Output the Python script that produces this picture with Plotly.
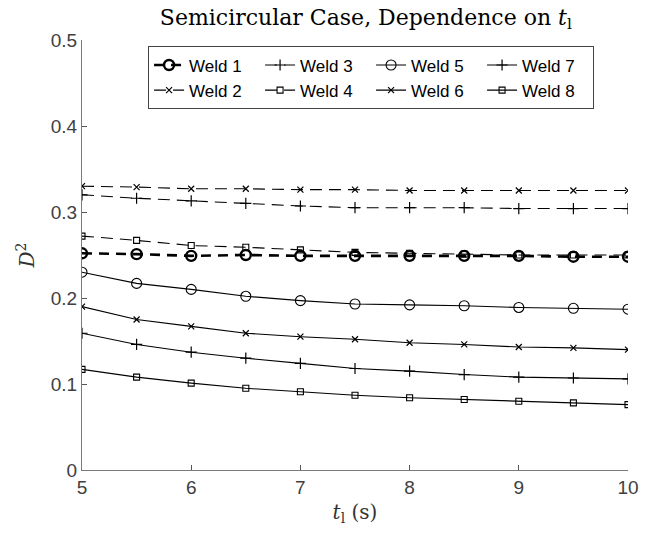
import plotly.graph_objects as go

t = [5, 5.5, 6, 6.5, 7, 7.5, 8, 8.5, 9, 9.5, 10]

weld1 = [0.252, 0.251, 0.249, 0.250, 0.249, 0.249, 0.249, 0.249, 0.249, 0.248, 0.248]
weld2 = [0.330, 0.329, 0.327, 0.327, 0.326, 0.326, 0.325, 0.325, 0.325, 0.325, 0.325]
weld3 = [0.320, 0.316, 0.313, 0.310, 0.307, 0.305, 0.305, 0.305, 0.304, 0.304, 0.304]
weld4 = [0.272, 0.267, 0.261, 0.259, 0.256, 0.253, 0.252, 0.251, 0.250, 0.250, 0.250]
weld5 = [0.230, 0.217, 0.210, 0.202, 0.197, 0.193, 0.192, 0.191, 0.189, 0.188, 0.187]
weld6 = [0.190, 0.175, 0.167, 0.159, 0.155, 0.152, 0.148, 0.146, 0.143, 0.142, 0.140]
weld7 = [0.159, 0.146, 0.137, 0.130, 0.124, 0.118, 0.115, 0.111, 0.108, 0.107, 0.106]
weld8 = [0.117, 0.108, 0.101, 0.095, 0.091, 0.087, 0.084, 0.082, 0.080, 0.078, 0.076]

series = {
    "Weld 1": weld1, "Weld 2": weld2, "Weld 3": weld3, "Weld 4": weld4,
    "Weld 5": weld5, "Weld 6": weld6, "Weld 7": weld7, "Weld 8": weld8,
}

styles = {
    "Weld 1": dict(dash="10px,7px", width=2.6, symbol="circle-open", size=10, mw=2.4),
    "Weld 2": dict(dash="12px,7px", width=1.1, symbol="x-thin-open", size=6, mw=1.2),
    "Weld 3": dict(dash="12px,7px", width=1.1, symbol="cross-thin-open", size=8, mw=1.2),
    "Weld 4": dict(dash="12px,7px", width=1.1, symbol="square-open", size=6, mw=1.1),
    "Weld 5": dict(dash="solid", width=1.1, symbol="circle-open", size=10, mw=1.1),
    "Weld 6": dict(dash="solid", width=1.1, symbol="x-thin-open", size=6, mw=1.2),
    "Weld 7": dict(dash="solid", width=1.1, symbol="cross-thin-open", size=8, mw=1.2),
    "Weld 8": dict(dash="solid", width=1.1, symbol="square-open", size=6, mw=1.1),
}

order = ["Weld 1", "Weld 3", "Weld 5", "Weld 7", "Weld 2", "Weld 4", "Weld 6", "Weld 8"]

fig = go.Figure()
for name in order:
    s = styles[name]
    fig.add_trace(go.Scatter(
        x=t, y=series[name], name=name, mode="lines+markers",
        line=dict(color="black", width=s["width"], dash=s["dash"]),
        marker=dict(symbol=s["symbol"], size=s["size"], color="black",
                    line=dict(color="black", width=s["mw"])),
    ))

axis_common = dict(
    showgrid=False, zeroline=False, showline=True, linecolor="#7a7a7a", linewidth=1,
    ticks="inside", ticklen=5, tickcolor="#555555", mirror=False,
    tickfont=dict(family="Liberation Sans, Arial, sans-serif", size=19, color="#404040"),
)

serif = "DejaVu Serif, Liberation Serif, serif"

fig.update_layout(
    width=651, height=536,
    margin=dict(l=82, r=19, t=40, b=66),
    paper_bgcolor="white", plot_bgcolor="white",
    showlegend=True,
    title=dict(
        text="Semicircular Case, Dependence on <i>t</i><sub>l</sub>",
        x=0.562, xanchor="center", y=0.968, yanchor="middle",
        font=dict(family=serif, size=22, color="black"),
    ),
    xaxis=dict(range=[5, 10], tickvals=[5, 6, 7, 8, 9, 10],
               title=dict(text="<i>t</i><sub>l</sub> (s)", standoff=8,
                          font=dict(family=serif, size=20, color="#333333")),
               **axis_common),
    yaxis=dict(range=[0, 0.5], tickvals=[0, 0.1, 0.2, 0.3, 0.4, 0.5],
               ticktext=["0", "0.1", "0.2", "0.3", "0.4", "0.5"],
               title=dict(text="<i>D</i><sup>2</sup>", standoff=10,
                          font=dict(family=serif, size=20, color="#333333")),
               **axis_common),
    legend=dict(
        orientation="h", x=0.121, y=0.985, xanchor="left", yanchor="top",
        bordercolor="#444444", borderwidth=1, bgcolor="white",
        font=dict(family="Liberation Sans, Arial, sans-serif", size=17, color="black"),
        entrywidth=66, entrywidthmode="pixels", traceorder="normal",
        itemwidth=30, tracegroupgap=0,
    ),
)

fig.write_html("out.html")
